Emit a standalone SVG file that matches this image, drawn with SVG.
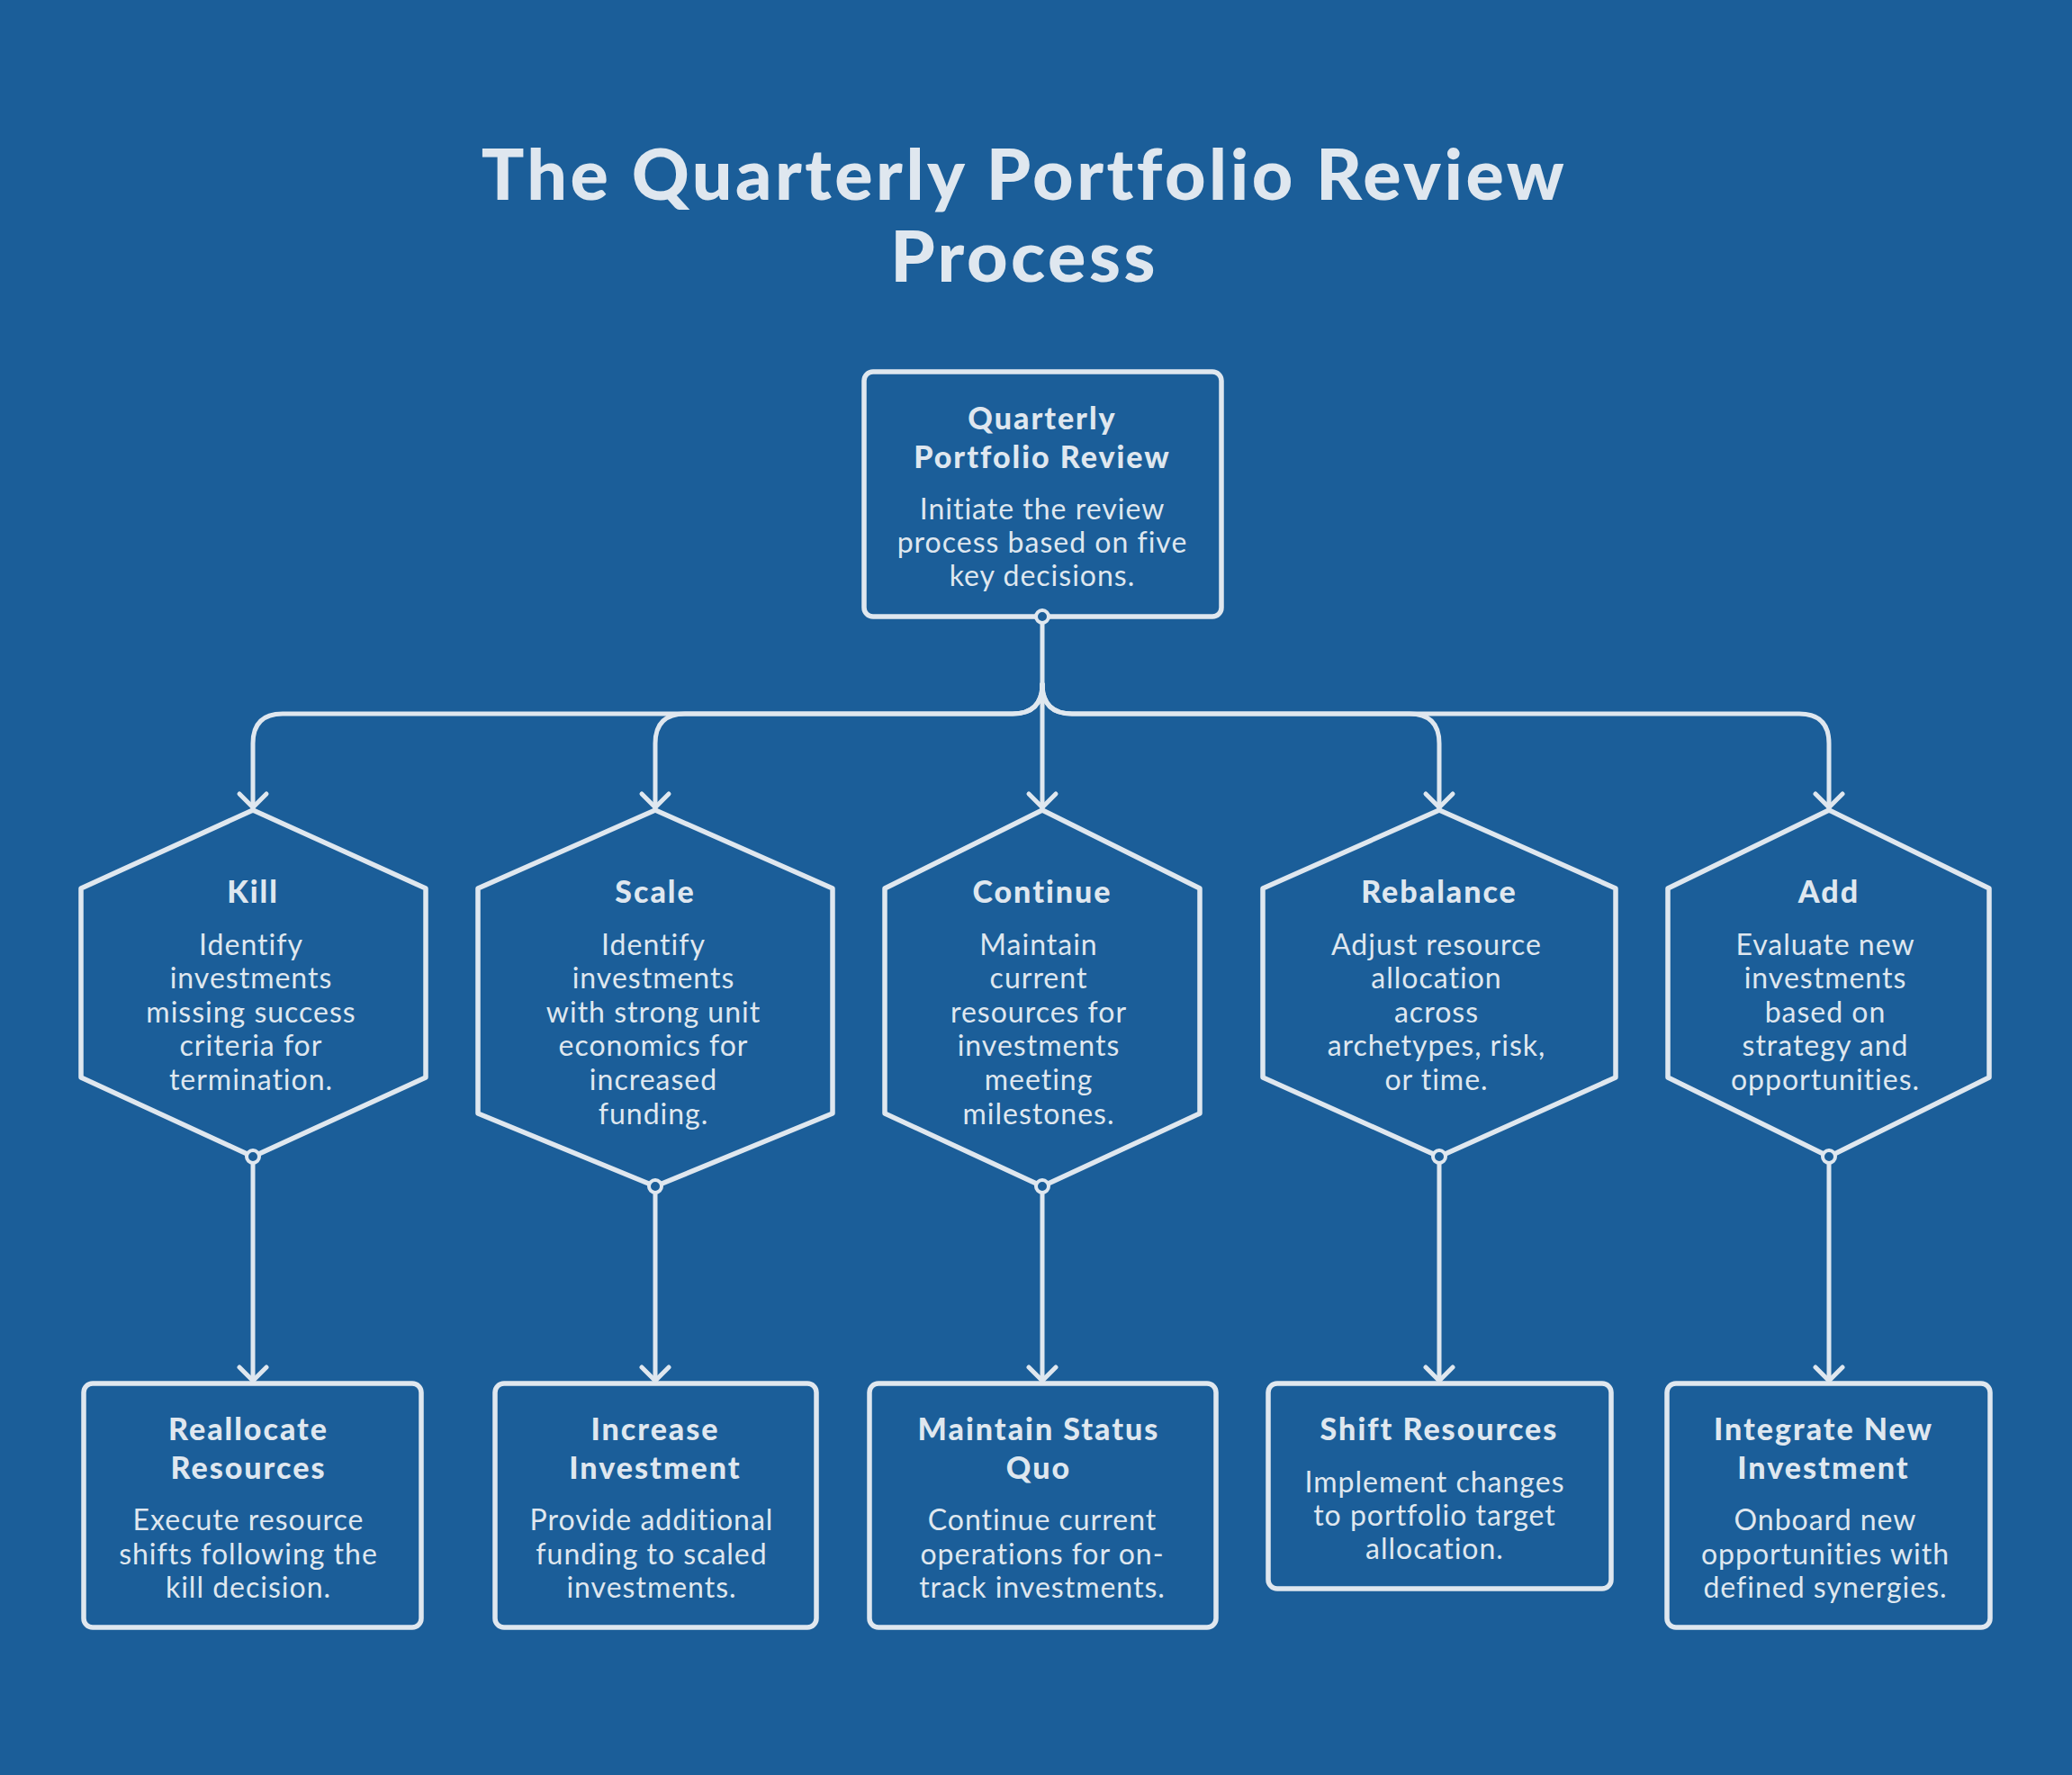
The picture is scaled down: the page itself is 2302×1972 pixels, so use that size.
<svg xmlns="http://www.w3.org/2000/svg" width="2302" height="1972" viewBox="0 0 2302 1972">
<defs>
<style>
.bg{fill:#1B5E99}
.shape{fill:#1B5E99;stroke:#DFE7EF;stroke-width:5.5;stroke-linejoin:round}
.conn{fill:none;stroke:#DFE7EF;stroke-width:5;stroke-linecap:round;stroke-linejoin:round}
.dot{fill:#1B5E99;stroke:#DFE7EF;stroke-width:4}
.title{font-family:Lato,"Noto Sans",sans-serif;font-weight:900;font-size:79px;letter-spacing:3.5px;fill:#DFE7EF;text-anchor:middle}
.h{font-family:Lato,"Noto Sans",sans-serif;font-weight:900;font-size:34px;letter-spacing:2px;fill:#DFE7EF;text-anchor:middle}
.d{font-family:Lato,"Noto Sans",sans-serif;font-size:32px;letter-spacing:1px;fill:#DFE7EF;text-anchor:middle}
</style>
<marker id="arr" markerUnits="userSpaceOnUse" markerWidth="40" markerHeight="40" viewBox="-20 -20 40 40" refX="0" refY="0" orient="auto">
<path d="M-15,-15 L0,0 L-15,15" fill="none" stroke="#DFE7EF" stroke-width="5" stroke-linecap="round" stroke-linejoin="round"/>
</marker>
</defs>
<rect class="bg" x="0" y="0" width="2302" height="1972"/>
<g id="title">
<text class="title" x="1138" y="222">The Quarterly Portfolio Review</text>
<text class="title" x="1138" y="313">Process</text>
</g>
<g id="connectors">
<path class="conn" d="M1158,692 V897" marker-end="url(#arr)"/>
<path class="conn" d="M1158,760 Q1158,793 1125,793 H314 Q281,793 281,826 V897" marker-end="url(#arr)"/>
<path class="conn" d="M1158,760 Q1158,793 1125,793 H761 Q728,793 728,826 V897" marker-end="url(#arr)"/>
<path class="conn" d="M1158,760 Q1158,793 1191,793 H1566 Q1599,793 1599,826 V897" marker-end="url(#arr)"/>
<path class="conn" d="M1158,760 Q1158,793 1191,793 H1999 Q2032,793 2032,826 V897" marker-end="url(#arr)"/>
<path class="conn" d="M281,1292 V1534" marker-end="url(#arr)"/>
<path class="conn" d="M728,1325 V1534" marker-end="url(#arr)"/>
<path class="conn" d="M1158,1325 V1534" marker-end="url(#arr)"/>
<path class="conn" d="M1599,1292 V1534" marker-end="url(#arr)"/>
<path class="conn" d="M2032,1292 V1534" marker-end="url(#arr)"/>
</g>
<g id="review">
<rect class="shape" x="960" y="413" width="397" height="272" rx="10"/>
<text class="h" x="1158" y="477">Quarterly</text>
<text class="h" x="1158" y="520">Portfolio Review</text>
<text class="d" x="1158" y="577">Initiate the review</text>
<text class="d" x="1158" y="614">process based on five</text>
<text class="d" x="1158" y="651">key decisions.</text>
<circle class="dot" cx="1158" cy="685" r="7"/>
</g>
<g id="kill">
<path class="shape" d="M281,900 L473,987 L473,1197 L281,1285 L90,1197 L90,987 Z"/>
<text class="h" x="281" y="1003">Kill</text>
<text class="d" x="279" y="1061">Identify</text>
<text class="d" x="279" y="1098">investments</text>
<text class="d" x="279" y="1136">missing success</text>
<text class="d" x="279" y="1173">criteria for</text>
<text class="d" x="279" y="1211">termination.</text>
<circle class="dot" cx="281" cy="1285" r="7"/>
</g>
<g id="scale">
<path class="shape" d="M728,900 L925,987 L925,1237 L728,1318 L531,1237 L531,987 Z"/>
<text class="h" x="728" y="1003">Scale</text>
<text class="d" x="726" y="1061">Identify</text>
<text class="d" x="726" y="1098">investments</text>
<text class="d" x="726" y="1136">with strong unit</text>
<text class="d" x="726" y="1173">economics for</text>
<text class="d" x="726" y="1211">increased</text>
<text class="d" x="726" y="1249">funding.</text>
<circle class="dot" cx="728" cy="1318" r="7"/>
</g>
<g id="continue">
<path class="shape" d="M1158,900 L1333,987 L1333,1237 L1158,1318 L983,1237 L983,987 Z"/>
<text class="h" x="1158" y="1003">Continue</text>
<text class="d" x="1154" y="1061">Maintain</text>
<text class="d" x="1154" y="1098">current</text>
<text class="d" x="1154" y="1136">resources for</text>
<text class="d" x="1154" y="1173">investments</text>
<text class="d" x="1154" y="1211">meeting</text>
<text class="d" x="1154" y="1249">milestones.</text>
<circle class="dot" cx="1158" cy="1318" r="7"/>
</g>
<g id="rebalance">
<path class="shape" d="M1599,900 L1795,987 L1795,1197 L1599,1285 L1403,1197 L1403,987 Z"/>
<text class="h" x="1599" y="1003">Rebalance</text>
<text class="d" x="1596" y="1061">Adjust resource</text>
<text class="d" x="1596" y="1098">allocation</text>
<text class="d" x="1596" y="1136">across</text>
<text class="d" x="1596" y="1173">archetypes, risk,</text>
<text class="d" x="1596" y="1211">or time.</text>
<circle class="dot" cx="1599" cy="1285" r="7"/>
</g>
<g id="add">
<path class="shape" d="M2032,900 L2210,987 L2210,1197 L2032,1285 L1853,1197 L1853,987 Z"/>
<text class="h" x="2032" y="1003">Add</text>
<text class="d" x="2028" y="1061">Evaluate new</text>
<text class="d" x="2028" y="1098">investments</text>
<text class="d" x="2028" y="1136">based on</text>
<text class="d" x="2028" y="1173">strategy and</text>
<text class="d" x="2028" y="1211">opportunities.</text>
<circle class="dot" cx="2032" cy="1285" r="7"/>
</g>
<g id="reallocate">
<rect class="shape" x="93" y="1537" width="375" height="271" rx="10"/>
<text class="h" x="276" y="1600">Reallocate</text>
<text class="h" x="276" y="1643">Resources</text>
<text class="d" x="276" y="1700">Execute resource</text>
<text class="d" x="276" y="1738">shifts following the</text>
<text class="d" x="276" y="1775">kill decision.</text>
</g>
<g id="increase">
<rect class="shape" x="550" y="1537" width="357" height="271" rx="10"/>
<text class="h" x="728" y="1600">Increase</text>
<text class="h" x="728" y="1643">Investment</text>
<text class="d" x="724" y="1700">Provide additional</text>
<text class="d" x="724" y="1738">funding to scaled</text>
<text class="d" x="724" y="1775">investments.</text>
</g>
<g id="maintain">
<rect class="shape" x="966" y="1537" width="385" height="271" rx="10"/>
<text class="h" x="1154" y="1600">Maintain Status</text>
<text class="h" x="1154" y="1643">Quo</text>
<text class="d" x="1158" y="1700">Continue current</text>
<text class="d" x="1158" y="1738">operations for on-</text>
<text class="d" x="1158" y="1775">track investments.</text>
</g>
<g id="shift">
<rect class="shape" x="1409" y="1537" width="381" height="228" rx="10"/>
<text class="h" x="1599" y="1600">Shift Resources</text>
<text class="d" x="1594" y="1658">Implement changes</text>
<text class="d" x="1594" y="1695">to portfolio target</text>
<text class="d" x="1594" y="1732">allocation.</text>
</g>
<g id="integrate">
<rect class="shape" x="1852" y="1537" width="359" height="271" rx="10"/>
<text class="h" x="2026" y="1600">Integrate New</text>
<text class="h" x="2026" y="1643">Investment</text>
<text class="d" x="2028" y="1700">Onboard new</text>
<text class="d" x="2028" y="1738">opportunities with</text>
<text class="d" x="2028" y="1775">defined synergies.</text>
</g>
</svg>
